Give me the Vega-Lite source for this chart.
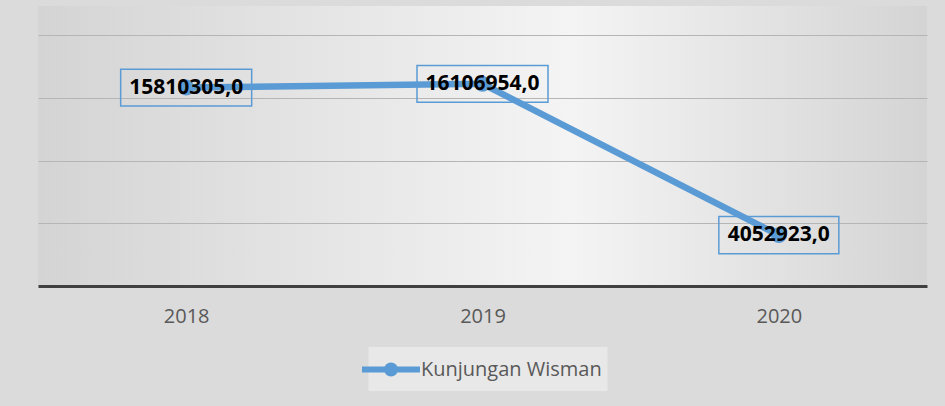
{
  "$schema": "https://vega.github.io/schema/vega-lite/v6.json",
  "width": 889,
  "height": 280,
  "autosize": {"type": "none"},
  "padding": {"left": 38, "top": 6, "right": 18, "bottom": 120},
  "background": "#dbdbdb",
  "data": {
    "values": [
      {"year": "2018", "value": 15810305, "label": "15810305,0", "series": "Kunjungan Wisman"},
      {"year": "2019", "value": 16106954, "label": "16106954,0", "series": "Kunjungan Wisman"},
      {"year": "2020", "value": 4052923, "label": "4052923,0", "series": "Kunjungan Wisman"}
    ]
  },
  "encoding": {
    "x": {
      "field": "year", "type": "ordinal",
      "scale": {"type": "point", "padding": 0.5},
      "axis": {
        "title": null, "labelAngle": 0, "ticks": false,
        "domainColor": "#404040", "domainWidth": 3,
        "labelFont": "Open Sans", "labelFontSize": 20, "labelColor": "#595959",
        "labelPadding": 20
      }
    },
    "y": {
      "field": "value", "type": "quantitative",
      "scale": {"domain": [0, 22310757], "nice": false},
      "axis": {
        "title": null, "labels": false, "ticks": false, "domain": false,
        "grid": true, "values": [5000000, 10000000, 15000000, 20000000],
        "gridColor": "#b5b5b5", "gridWidth": 1
      }
    }
  },
  "layer": [
    {
      "mark": {"type": "line", "strokeWidth": 6.5, "point": {"filled": true, "size": 254, "opacity": 1}},
      "encoding": {
        "color": {
          "field": "series", "type": "nominal",
          "scale": {"range": ["#5b9bd5"]},
          "legend": {
            "title": null, "orient": "none", "legendX": 330.5, "legendY": 341,
            "padding": 5, "fillColor": "#e8e8e8",
            "labelFont": "Open Sans", "labelFontSize": 20, "labelColor": "#595959",
            "labelOffset": 12.5, "labelLimit": 400,
            "symbolType": "M-2,0H2M-0.28,0A0.28,0.28,0,1,1,0.28,0A0.28,0.28,0,1,1,-0.28,0Z",
            "symbolSize": 841, "symbolStrokeWidth": 6,
            "symbolFillColor": "#5b9bd5", "symbolStrokeColor": "#5b9bd5"
          }
        }
      }
    },
    {
      "mark": {"type": "point", "filled": false, "stroke": "#5b9bd5", "strokeWidth": 1.5, "opacity": 1},
      "encoding": {
        "shape": {
          "condition": {"test": "datum.year === '2020'", "value": "M-1,-0.31H1V0.31H-1Z"},
          "value": "M-1,-0.28H1V0.28H-1Z"
        },
        "size": {
          "condition": {"test": "datum.year === '2020'", "value": 14400},
          "value": 17161
        }
      }
    },
    {
      "mark": {"type": "text", "font": "Open Sans", "fontSize": 21, "fontWeight": "bold", "color": "black", "baseline": "middle", "align": "center"},
      "encoding": {"text": {"field": "label"}}
    }
  ],
  "config": {
    "view": {
      "stroke": null,
      "fill": {"expr": "{gradient: 'linear', x1: 0, y1: 0, x2: 1, y2: 0, stops: [{offset: 0, color: '#d4d4d4'}, {offset: 0.6, color: '#f4f4f4'}, {offset: 1, color: '#d4d4d4'}]}"}
    }
  }
}
